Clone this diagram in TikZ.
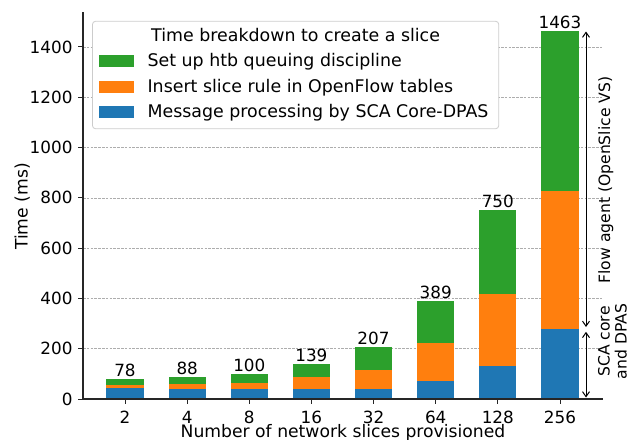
\documentclass[tikz,border=0pt]{standalone}
\usepackage{fontspec}
\setmainfont{DejaVu Sans}
\usetikzlibrary{arrows.meta}
\definecolor{tabblue}{HTML}{1F77B4}
\definecolor{taborange}{HTML}{FF7F0E}
\definecolor{tabgreen}{HTML}{2CA02C}
\definecolor{axisgray}{HTML}{262626}
\begin{document}
\begin{tikzpicture}[x=1pt,y=-1pt,
  every node/.style={inner sep=0pt,outer sep=0pt,text=black},
  numlabel/.style={font=\fontsize{16.8}{20}\selectfont},
  axlabel/.style={font=\fontsize{17.2}{20}\selectfont},
  legtext/.style={font=\fontsize{17.4}{20}\selectfont},
  sidelabel/.style={font=\fontsize{15.6}{17}\selectfont},
  gridline/.style={draw=black!32,line width=0.6pt,dash pattern=on 2.6pt off 1.2pt},
  spine/.style={draw=axisgray,line width=1.1pt},
  tickmark/.style={draw=axisgray,line width=1pt},
  span/.style={draw=black,line width=1pt,{Straight Barb[length=5pt,width=7pt]}-{Straight Barb[length=5pt,width=7pt]}},
  legbox/.style={draw=black!20,fill=white,rounded corners=3pt,line width=0.8pt}
]
\useasboundingbox (0,0) rectangle (629,439);
% vertical scale: pixel y = 399 - 0.2515 * ms
\def\ys{0.2515}
% horizontal grid lines
\foreach \v in {200,400,...,1400}
  \draw[gridline] (83,{399-\ys*\v}) -- (603,{399-\ys*\v});
% stacked bars: centre / processing / +rule / total
\foreach \c/\b/\o/\t [count=\i] in {125/42/57/78,187.2/40/61/88,249.3/38.5/65/100,311.4/40/86/139,373.5/38.5/117/207,435.7/73/221/389,497.8/131/419/750,560/277/826/1463}{
  \fill[tabblue]   (\c-18.65,399) rectangle (\c+18.65,{399-\ys*\b});
  \fill[taborange] (\c-18.65,{399-\ys*\b}) rectangle (\c+18.65,{399-\ys*\o});
  \fill[tabgreen]  (\c-18.65,{399-\ys*\o}) rectangle (\c+18.65,{399-\ys*\t});
  \node[numlabel,anchor=base] (tot\i) at (\c,{399-\ys*\t-2.4}) {\t};
  \draw[tickmark] (\c,399) -- (\c,404);
  \node[numlabel,anchor=base] (xl\i) at (\c,423.3) {\pgfmathparse{int(2^\i)}\pgfmathresult};
}
% axes spines
\draw[spine] (83,12) -- (83,399.5);
\draw[spine] (82.5,399) -- (603,399);
% y ticks and labels
\foreach \v in {0,200,...,1400}{
  \draw[tickmark] (78,{399-\ys*\v}) -- (83,{399-\ys*\v});
  \node[numlabel,anchor=base east] at (72.5,{399-\ys*\v+6.1}) {\v};
}
% axis titles
\node[axlabel,rotate=90,anchor=base] (ylab) at (27.5,206.5) {Time (ms)};
\node[axlabel,anchor=base] (xlab) at (343,437.4) {Number of network slices provisioned};
% legend
\draw[legbox] (92.5,21.3) rectangle (498.7,128.7);
\node[legtext,anchor=base] (legtitle) at (295.6,41.7) {Time breakdown to create a slice};
\fill[tabgreen]  (99.3,55) rectangle (133.5,66.7);
\fill[taborange] (99.3,81) rectangle (133.5,92.7);
\fill[tabblue]   (99.3,106.3) rectangle (133.5,118.1);
\node[legtext,anchor=base west] (leg1) at (147.6,66.8) {Set up htb queuing discipline};
\node[legtext,anchor=base west] (leg2) at (147.6,92.4) {Insert slice rule in OpenFlow tables};
\node[legtext,anchor=base west] (leg3) at (147.6,117.5) {Message processing by SCA Core-DPAS};
% component spans on the right
\coordinate (fatop) at (586,31.5);
\coordinate (fabot) at (586,327);
\coordinate (sctop) at (586,331.8);
\coordinate (scbot) at (586,397.5);
\draw[span] (fatop) -- (fabot);
\draw[span] (sctop) -- (scbot);
\node[sidelabel,rotate=90,anchor=base] (falab) at (610,180) {Flow agent (OpenSlice VS)};
\node[sidelabel,rotate=90,align=center] (sclab) at (612.4,341.5) {SCA core\\and DPAS};
\end{tikzpicture}
\end{document}
